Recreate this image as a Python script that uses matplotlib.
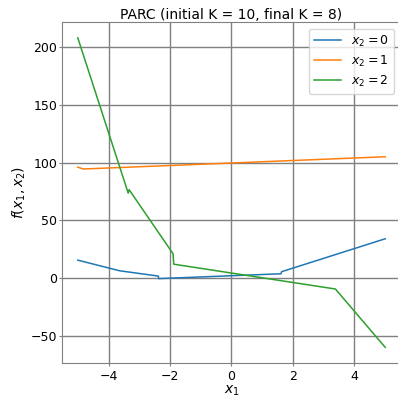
import matplotlib
matplotlib.use('Agg')
import matplotlib.pyplot as plt

# piecewise model output for each x2 value
x_0 = [-5.0, -3.64, -2.38, -2.37, 1.61, 1.63, 5.0]
y_0 = [15.5, 6.3, 1.7, -0.5, 3.7, 5.5, 34.0]

x_1 = [-5.0, -4.82, 5.0]
y_1 = [96.0, 94.4, 105.0]

x_2 = [-5.0, -3.36, -3.33, -1.9, -1.88, 3.38, 5.0]
y_2 = [208.0, 73.5, 76.5, 21.0, 12.0, -9.5, -60.0]

labels = ['$x_2 = 0$', '$x_2 = 1$', '$x_2 = 2$']

fig = plt.figure(figsize=(3.98, 3.98), dpi=100)
ax = fig.add_axes([0.1568, 0.0884, 0.8497, 0.8555])

ax.plot(x_0, y_0, color='tab:blue', lw=1.1, label=labels[0])
ax.plot(x_1, y_1, color='tab:orange', lw=1.1, label=labels[1])
ax.plot(x_2, y_2, color='tab:green', lw=1.1, label=labels[2])

ax.grid(True, color='gray', lw=1)
ax.set_axisbelow(True)
for s in ax.spines.values():
    s.set_color('gray')
ax.tick_params(color='gray', labelsize=9, length=2.4)
ax.tick_params(axis='x', pad=2.5)
ax.tick_params(axis='y', pad=1.2)

ax.set_xlabel('$x_1$', fontsize=10, labelpad=1)
ax.set_ylabel('$f(x_1, x_2)$', fontsize=10, labelpad=2)
ax.set_title('PARC (initial K = 10, final K = 8)', fontsize=10, pad=2)
ax.legend(loc='upper right', fontsize=9, labelspacing=0.4, handlelength=2.2)

fig.savefig('out.png', dpi=100)
